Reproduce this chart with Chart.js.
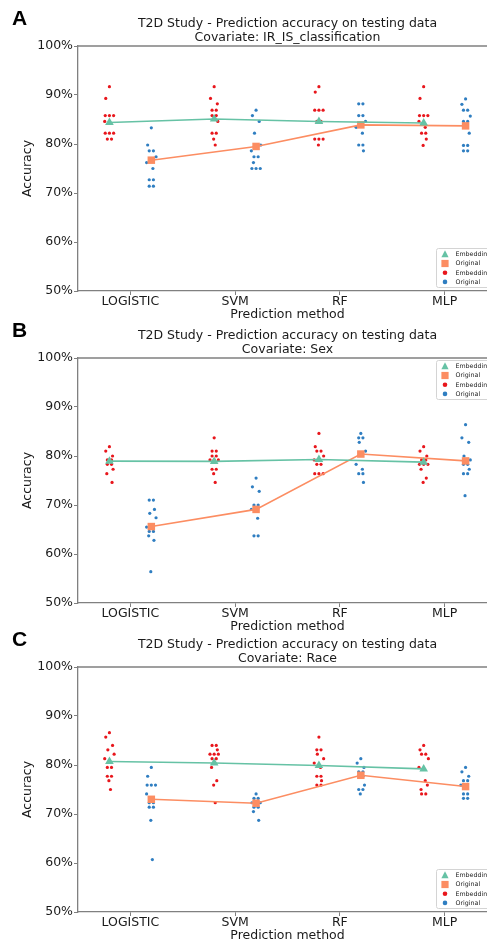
<!DOCTYPE html>
<html>
<head>
<meta charset="utf-8">
<script src="https://cdn.jsdelivr.net/npm/chart.js"></script>
<style>
  html, body { margin: 0; padding: 0; background: #fff; }
  #page { position: relative; width: 487px; height: 944px; overflow: hidden; }
  .panel { position: absolute; left: 0; width: 520px; height: 325px; }
</style>
</head>
<body>
<div id="page">
  <div class="panel" style="top:0px"><canvas id="chartA" width="520" height="325"></canvas></div>
  <div class="panel" style="top:312px"><canvas id="chartB" width="520" height="325"></canvas></div>
  <div class="panel" style="top:621px"><canvas id="chartC" width="520" height="325"></canvas></div>
</div>
<script>
const METHODS = ['LOGISTIC', 'SVM', 'RF', 'MLP'];
const TITLE = 'T2D Study - Prediction accuracy on testing data';

// panel A - IR_IS_classification (one array per method)
const A_EMBEDDING = [
  [91.7, 89.3, 85.8, 85.8, 85.8, 84.6, 82.2, 82.2, 82.2, 81.0, 81.0],
  [91.7, 89.3, 88.2, 86.9, 86.9, 85.8, 85.8, 84.6, 82.2, 82.2, 81.0, 79.8],
  [91.7, 90.6, 86.9, 86.9, 86.9, 84.6, 84.6, 81.0, 81.0, 81.0, 79.8],
  [91.7, 89.3, 85.8, 85.8, 85.8, 84.6, 83.4, 82.2, 82.2, 81.0, 79.7]
];
const A_ORIGINAL = [
  [83.3, 79.8, 78.6, 78.6, 77.4, 76.2, 75.0, 72.7, 72.7, 71.4, 71.4],
  [86.9, 85.8, 84.6, 82.2, 79.8, 78.6, 77.4, 77.4, 76.2, 75.0, 75.0, 75.0],
  [88.2, 88.2, 85.8, 85.8, 84.6, 83.4, 82.2, 79.8, 79.8, 78.6],
  [89.2, 88.1, 86.9, 86.9, 85.7, 84.6, 84.6, 82.2, 79.7, 79.7, 78.6, 78.6]
];
const A_EMBEDDING_MEAN = [84.4, 85.1, 84.6, 84.3];
const A_ORIGINAL_MEAN = [76.7, 79.5, 83.9, 83.7];

// panel B - Sex
const B_EMBEDDING = [
  [81.9, 81.0, 80.0, 79.2, 79.2, 78.3, 78.3, 77.3, 76.4, 74.6],
  [83.7, 81.0, 81.0, 80.0, 80.0, 79.2, 79.2, 79.2, 77.3, 77.3, 76.4, 74.6],
  [84.6, 81.9, 81.0, 81.0, 80.0, 79.2, 78.3, 78.3, 76.4, 76.4, 76.4],
  [81.9, 81.0, 80.0, 79.2, 79.2, 78.3, 78.3, 78.3, 77.3, 75.5, 74.6]
];
const B_ORIGINAL = [
  [71.0, 71.0, 69.1, 68.3, 67.4, 65.5, 64.6, 64.6, 63.7, 62.8, 56.4],
  [75.5, 73.7, 72.8, 70.0, 70.0, 69.1, 67.3, 63.7, 63.7],
  [84.6, 83.7, 83.7, 82.8, 81.0, 78.3, 77.3, 76.4, 76.4, 74.6],
  [86.4, 83.7, 82.8, 80.0, 79.2, 78.3, 78.3, 77.3, 76.4, 76.4, 71.9]
];
const B_EMBEDDING_MEAN = [78.95, 78.9, 79.3, 78.75];
const B_ORIGINAL_MEAN = [65.6, 69.1, 80.4, 79.0];

// panel C - Race
const C_EMBEDDING = [
  [86.6, 85.7, 84.0, 83.1, 82.2, 81.3, 79.5, 79.5, 77.7, 77.7, 76.8, 75.0],
  [84.0, 84.0, 83.1, 82.2, 82.2, 82.2, 81.3, 81.3, 79.5, 76.8, 75.9, 72.3],
  [85.7, 83.1, 83.1, 82.2, 81.3, 80.4, 79.5, 77.7, 77.7, 76.8, 75.9, 75.9],
  [84.0, 83.1, 82.2, 82.2, 81.3, 79.5, 76.8, 75.9, 75.0, 74.1, 74.1]
];
const C_ORIGINAL = [
  [79.5, 77.7, 75.9, 75.9, 75.9, 74.1, 72.3, 72.3, 71.4, 71.4, 68.7, 60.7],
  [74.1, 73.2, 73.2, 72.3, 72.3, 72.3, 71.4, 71.4, 70.5, 68.7],
  [81.3, 80.4, 79.5, 78.6, 78.6, 77.7, 77.7, 75.9, 75.0, 75.0, 74.1],
  [79.5, 78.6, 77.7, 76.8, 76.8, 75.9, 74.1, 74.1, 73.2, 73.2]
];
const C_EMBEDDING_MEAN = [80.7, 80.4, 79.9, 79.2];
const C_ORIGINAL_MEAN = [73.0, 72.2, 77.9, 75.6];

const FONT = "'DejaVu Sans', sans-serif";
const INK = '#1a1a1a';
const AXIS = '#808080';
const GREEN = '#66c2a5';
const ORANGE = '#fc8d62';
const RED = '#e8161c';
const BLUE = '#2f7ec1';

// fixed strip jitter so repeated runs look the same
const JITTER = [0, -0.035, 0.03, -0.015, 0.045, -0.045, 0.015, 0.035, -0.025, 0.025, -0.005, 0.01];

function stripPoints(groups, shift) {
  const pts = [];
  groups.forEach((vals, c) => {
    vals.forEach((v, i) => {
      const same = vals.filter(u => u === v).length;
      const k = vals.slice(0, i).filter(u => u === v).length;
      const dx = same > 1 ? (k - (same - 1) / 2) * 0.04 : JITTER[i % JITTER.length];
      pts.push({ x: c + shift + dx, y: v });
    });
  });
  return pts;
}

function meanPoints(vals, shift) {
  return vals.map((v, c) => ({ x: c + shift, y: v }));
}

const frame = {
  id: 'frame',
  beforeDatasetsDraw(chart) {
    const { ctx, chartArea: a } = chart;
    ctx.save();
    ctx.strokeStyle = AXIS;
    ctx.lineWidth = 1.3;
    ctx.beginPath();
    ctx.moveTo(a.left, a.top);
    ctx.lineTo(a.right, a.top);
    ctx.lineTo(a.right, a.bottom);
    ctx.stroke();
    ctx.restore();
  }
};

const panelLetter = {
  id: 'panelLetter',
  afterDraw(chart, args, opts) {
    const { ctx } = chart;
    ctx.save();
    ctx.fillStyle = '#000';
    ctx.font = "bold 21px 'Liberation Sans', Arial, sans-serif";
    ctx.textBaseline = 'alphabetic';
    ctx.fillText(opts.text, 12, 25);
    ctx.restore();
  }
};

const legendBox = {
  id: 'legendBox',
  afterDatasetsDraw(chart, args, opts) {
    const { ctx, chartArea: a } = chart;
    const w = 57, h = 39;
    const x0 = a.right - w - 3.5;
    const y0 = opts.where === 'top' ? a.top + 2.5 : a.bottom - h - 3.5;
    ctx.save();
    ctx.fillStyle = 'rgba(255,255,255,0.85)';
    ctx.strokeStyle = '#d4d4d4';
    ctx.lineWidth = 1;
    ctx.beginPath();
    ctx.roundRect(x0, y0, w, h, 2);
    ctx.fill();
    ctx.stroke();
    const mx = x0 + 8.5;
    chart.data.datasets.forEach((ds, i) => {
      const y = y0 + 5.8 + i * 9.2;
      ctx.fillStyle = ds.backgroundColor;
      ctx.beginPath();
      if (ds.pointStyle === 'triangle') {
        ctx.moveTo(mx, y - 4);
        ctx.lineTo(mx + 3.6, y + 3);
        ctx.lineTo(mx - 3.6, y + 3);
        ctx.closePath();
      } else if (ds.pointStyle === 'rect') {
        ctx.rect(mx - 3.6, y - 3.6, 7.2, 7.2);
      } else {
        ctx.arc(mx, y, 2.3, 0, Math.PI * 2);
      }
      ctx.fill();
      ctx.fillStyle = INK;
      ctx.font = "6.3px 'DejaVu Sans', sans-serif";
      ctx.textBaseline = 'middle';
      ctx.fillText(ds.label, x0 + 19, y + 0.3);
    });
    ctx.restore();
  }
};

function makePanel(id, letter, covariate, emb, orig, embMean, origMean, legendWhere) {
  const axisFont = { family: FONT, size: 12.5 };
  return new Chart(document.getElementById(id), {
    type: 'scatter',
    data: {
      datasets: [
        {
          label: 'Embedding',
          data: meanPoints(embMean, -0.2),
          showLine: true,
          borderColor: GREEN,
          backgroundColor: GREEN,
          borderWidth: 1.6,
          pointStyle: 'triangle',
          pointRadius: 5,
          pointBorderWidth: 0,
          order: 0
        },
        {
          label: 'Original',
          data: meanPoints(origMean, 0.2),
          showLine: true,
          borderColor: ORANGE,
          backgroundColor: ORANGE,
          borderWidth: 1.6,
          pointStyle: 'rect',
          pointRadius: 5.3,
          pointBorderWidth: 0,
          order: 0
        },
        {
          label: 'Embedding',
          data: stripPoints(emb, -0.2),
          backgroundColor: RED,
          pointStyle: 'circle',
          pointRadius: 1.6,
          pointBorderWidth: 0,
          order: 1
        },
        {
          label: 'Original',
          data: stripPoints(orig, 0.2),
          backgroundColor: BLUE,
          pointStyle: 'circle',
          pointRadius: 1.6,
          pointBorderWidth: 0,
          order: 1
        }
      ]
    },
    options: {
      responsive: false,
      animation: false,
      events: [],
      layout: { padding: { left: 10, right: 23, top: 0, bottom: 3 } },
      plugins: {
        legend: { display: false },
        tooltip: { enabled: false },
        title: {
          display: true,
          fullSize: false,
          text: [TITLE, 'Covariate: ' + covariate],
          color: INK,
          font: { family: FONT, size: 12.5, weight: 'normal', lineHeight: '14px' },
          padding: { top: 17, bottom: 1 }
        },
        legendBox: { where: legendWhere },
        panelLetter: { text: letter }
      },
      scales: {
        x: {
          type: 'linear',
          min: -0.5,
          max: 3.5,
          afterBuildTicks: s => { s.ticks = METHODS.map((m, i) => ({ value: i })); },
          afterFit: s => { s.height = 31; },
          ticks: {
            callback: v => METHODS[v],
            font: { family: FONT, size: 12.5, lineHeight: 1 },
            color: INK,
            padding: 0,
            maxRotation: 0,
            autoSkip: false
          },
          grid: { drawOnChartArea: false, tickLength: 4, color: AXIS, lineWidth: 1 },
          border: { color: AXIS, width: 1.3 },
          title: { display: true, text: 'Prediction method', font: axisFont, color: INK, padding: 0 }
        },
        y: {
          min: 50,
          max: 100,
          afterFit: s => { s.width = 68; },
          ticks: {
            stepSize: 10,
            callback: v => v + '%',
            font: axisFont,
            color: INK,
            padding: 1
          },
          grid: { drawOnChartArea: false, tickLength: 4, color: AXIS, lineWidth: 1 },
          border: { color: AXIS, width: 1.3 },
          title: { display: true, text: 'Accuracy', font: axisFont, color: INK, padding: { top: 10, bottom: 0 } }
        }
      }
    },
    plugins: [frame, panelLetter, legendBox]
  });
}

makePanel('chartA', 'A', 'IR_IS_classification', A_EMBEDDING, A_ORIGINAL, A_EMBEDDING_MEAN, A_ORIGINAL_MEAN, 'bottom');
makePanel('chartB', 'B', 'Sex', B_EMBEDDING, B_ORIGINAL, B_EMBEDDING_MEAN, B_ORIGINAL_MEAN, 'top');
makePanel('chartC', 'C', 'Race', C_EMBEDDING, C_ORIGINAL, C_EMBEDDING_MEAN, C_ORIGINAL_MEAN, 'bottom');
</script>
</body>
</html>
